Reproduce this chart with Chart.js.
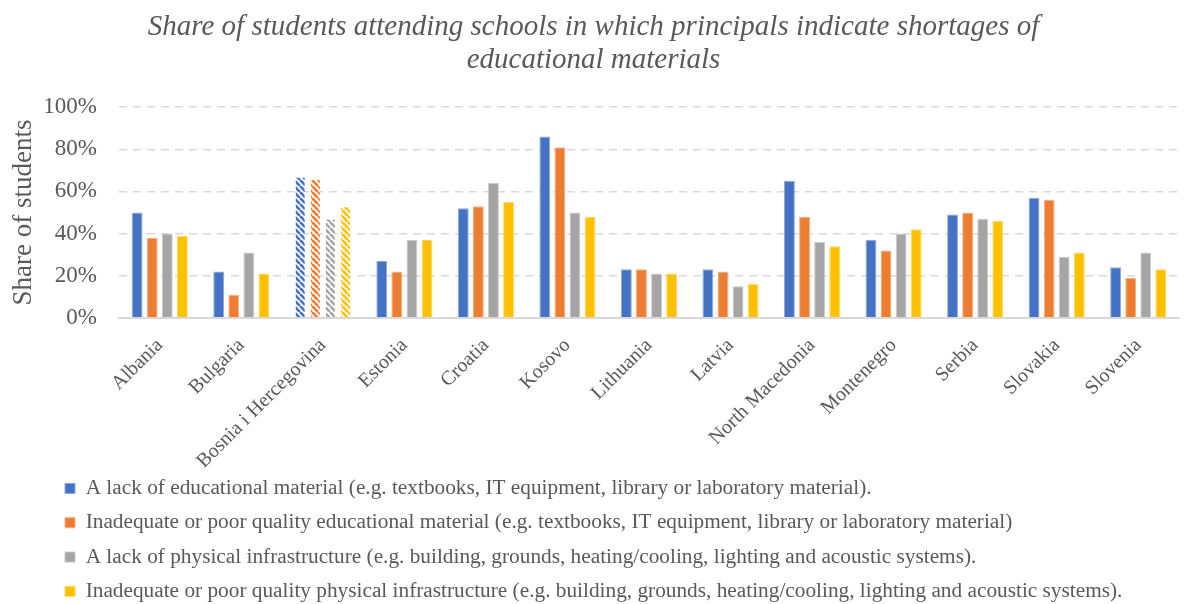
<!DOCTYPE html>
<html>
<head>
<meta charset="utf-8">
<script src="https://cdn.jsdelivr.net/npm/chart.js@4"></script>
<style>
  html, body { margin: 0; padding: 0; background: #fff; }
  #wrap { width: 1185px; height: 604px; position: relative; }
</style>
</head>
<body>
<div id="wrap"><canvas id="shortageChart"></canvas></div>
<script>
"use strict";

const countries = ['Albania', 'Bulgaria', 'Bosnia i Hercegovina', 'Estonia', 'Croatia', 'Kosovo',
  'Lithuania', 'Latvia', 'North Macedonia', 'Montenegro', 'Serbia', 'Slovakia', 'Slovenia'];

const lackMaterial = [50, 22, 67, 27, 52, 86, 23, 23, 65, 37, 49, 57, 24];
const poorMaterial = [38, 11, 66, 22, 53, 81, 23, 22, 48, 32, 50, 56, 19];
const lackInfra = [40, 31, 47, 37, 64, 50, 21, 15, 36, 40, 47, 29, 31];
const poorInfra = [39, 21, 53, 37, 55, 48, 21, 16, 34, 42, 46, 31, 23];

const seriesNames = [
  'A lack of educational material (e.g. textbooks, IT equipment, library or laboratory material).',
  'Inadequate or poor quality educational material (e.g. textbooks, IT equipment, library or laboratory material)',
  'A lack of physical infrastructure (e.g. building, grounds, heating/cooling, lighting and acoustic systems).',
  'Inadequate or poor quality physical infrastructure (e.g. building, grounds, heating/cooling, lighting and acoustic systems).'
];
const yTicks = [0, 20, 40, 60, 80, 100];

// Bosnia i Hercegovina is drawn with a striped fill
const hatchedCountry = 'Bosnia i Hercegovina';

const colors = ['#4472C4', '#ED7D31', '#A5A5A5', '#FFC000'];
const edges = ['#8FA9DC', '#F4AE83', '#C9C9C9', '#FFD966'];

const makeHatch = (color) => {
  const size = 6;
  const tile = document.createElement('canvas');
  tile.width = size;
  tile.height = size;
  const c = tile.getContext('2d');
  c.fillStyle = '#fff';
  c.fillRect(0, 0, size, size);
  c.strokeStyle = color;
  c.lineWidth = 2.6;
  c.beginPath();
  for (let o = -size; o <= size; o += size) {
    c.moveTo(o, 0);
    c.lineTo(o + size, size);
  }
  c.stroke();
  return c.createPattern(tile, 'repeat');
};

const makeDataset = (label, values, i) => {
  const hatch = makeHatch(colors[i]);
  return {
    label: label,
    data: values,
    backgroundColor: (ctx) => countries[ctx.dataIndex] === hatchedCountry ? hatch : colors[i],
    borderColor: (ctx) => countries[ctx.dataIndex] === hatchedCountry ? 'rgba(0,0,0,0)' : edges[i],
    borderWidth: 1,
    barPercentage: 0.72,
    categoryPercentage: 0.74
  };
};

const grey = '#595959';
const serif = "'Liberation Serif', 'Times New Roman', serif";

// legend goes right and a bit down; the x axis box is stretched so long
// rotated labels are not clipped where they run into the legend
const layoutTweaks = {
  id: 'layoutTweaks',
  afterLayout(chart) {
    chart.legend.left += 44;
    chart.legend.top += 8;
    chart.legend.bottom += 8;
    chart.scales.x.bottom += 40;
  }
};

const ctx = document.getElementById('shortageChart').getContext('2d');
const myChart = new Chart(ctx, {
  type: 'bar',
  data: {
    labels: countries,
    datasets: [
      makeDataset(seriesNames[0], lackMaterial, 0),
      makeDataset(seriesNames[1], poorMaterial, 1),
      makeDataset(seriesNames[2], lackInfra, 2),
      makeDataset(seriesNames[3], poorInfra, 3)
    ]
  },
  plugins: [layoutTweaks],
  options: {
    responsive: true,
    maintainAspectRatio: false,
    animation: false,
    layout: { padding: { left: 8, right: 6, top: 7, bottom: 0 } },
    plugins: {
      title: {
        display: true,
        text: ['Share of students attending schools in which principals indicate shortages of', 'educational materials'],
        color: grey,
        font: { family: serif, size: 29, style: 'italic', weight: 'normal', lineHeight: 1.14 },
        padding: { top: 4, bottom: 30 }
      },
      legend: {
        position: 'bottom',
        align: 'start',
        labels: {
          color: grey,
          boxWidth: 10,
          boxHeight: 10,
          padding: 13,
          font: { family: serif, size: 21.3 }
        }
      },
      tooltip: { enabled: false }
    },
    scales: {
      x: {
        grid: { display: false },
        border: { display: true, color: '#D9D9D9', width: 2 },
        afterFit: (axis) => {
          axis.height = 139;
          axis.paddingLeft = 0;
          axis.paddingRight = 0;
        },
        ticks: {
          color: grey,
          minRotation: 45,
          maxRotation: 45,
          padding: 8,
          font: { family: serif, size: 20 }
        }
      },
      y: {
        min: 0,
        max: 100,
        afterBuildTicks: (axis) => {
          axis.ticks = yTicks.map(v => ({ value: v }));
        },
        afterFit: (axis) => {
          axis.width = 111;
        },
        grid: { color: '#D9D9D9', lineWidth: 1.5, drawTicks: false },
        border: { display: false, dash: [8, 6] },
        ticks: {
          color: grey,
          padding: 22,
          font: { family: serif, size: 23 },
          callback: (v) => v + '%'
        },
        title: {
          display: true,
          text: 'Share of students',
          color: grey,
          padding: { top: 0, bottom: 2 },
          font: { family: serif, size: 27 }
        }
      }
    }
  }
});
</script>
</body>
</html>
